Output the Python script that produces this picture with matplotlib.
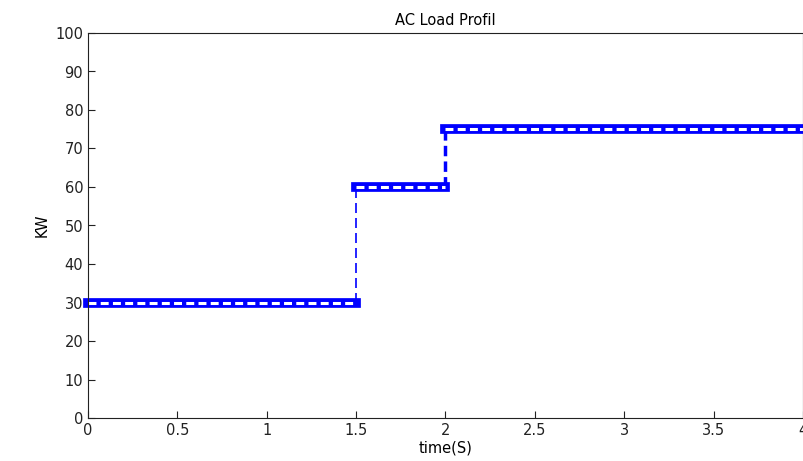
import numpy as np
import matplotlib.pyplot as plt

# step breakpoints of the load profile
t_start = [0.0, 1.5, 2.0]
t_end = [1.5, 2.0, 4.0]
load_kw = [30, 60, 75]

fig = plt.figure(figsize=(8.04, 4.61), dpi=100)
ax = fig.add_axes([88/804, 43/461, 715/804, 385/461])

blue = (0, 0, 1)

# vertical jumps (dashed)
ax.plot([t_end[0], t_end[0]], [load_kw[0], load_kw[1]], color=blue, lw=1.2, ls=(0, (6, 3)))
ax.plot([t_end[1], t_end[1]], [load_kw[1], load_kw[2]], color=blue, lw=2.5, ls=(0, (3, 1.5)))

# horizontal segments drawn as thick band with white dashes inside
for a, b, v in zip(t_start, t_end, load_kw):
    ax.plot([a, b], [v, v], color=blue, lw=7, solid_capstyle='projecting', clip_on=False)
    ax.plot([a, b], [v, v], color='white', lw=2.2, ls=(0, (2.6, 1.4)), clip_on=False)

ax.set_xlim(0, 4)
ax.set_ylim(0, 100)
ax.set_xticks(np.arange(0, 4.01, 0.5))
ax.set_xticklabels(['0', '0.5', '1', '1.5', '2', '2.5', '3', '3.5', '4'])
ax.set_yticks(np.arange(0, 101, 10))
ax.tick_params(direction='in', labelsize=10.5, length=5, colors='#222222')
ax.set_xlabel('time(S)', fontsize=10.5, labelpad=2)
ax.set_ylabel('KW', fontsize=10.5)
ax.set_title('AC Load Profil', fontsize=10.5, pad=6)
for s in ax.spines.values():
    s.set_color('#222222')

fig.savefig('out.png', dpi=100)
